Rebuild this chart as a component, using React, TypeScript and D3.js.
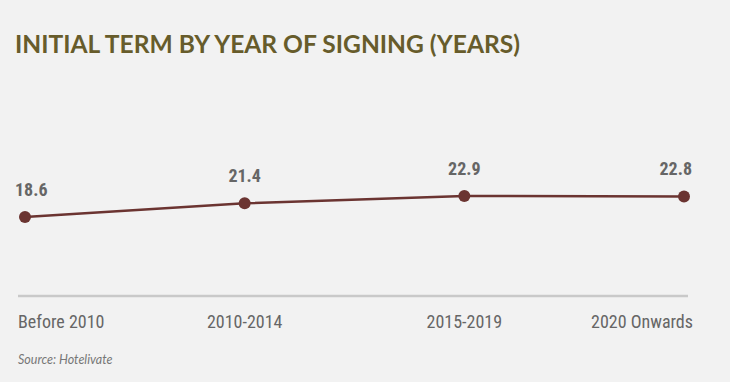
import React from "react";
import * as d3 from "d3";

const categories = ["Before 2010", "2010-2014", "2015-2019", "2020 Onwards"];
const values = [18.6, 21.4, 22.9, 22.8];
const title = "INITIAL TERM BY YEAR OF SIGNING (YEARS)";
const source = "Source: Hotelivate";

const W = 730;
const H = 382;

export default function App() {
  const x = d3.scalePoint<string>().domain(categories).range([25, 684]);
  const y = d3.scaleLinear().domain([18.6, 22.9]).range([217, 196]);
  const line = d3
    .line<number>()
    .x((_, i) => x(categories[i]) as number)
    .y((d) => y(d));
  const condensed = "'Roboto Condensed', 'Liberation Sans Narrow', 'DejaVu Sans Condensed', sans-serif";
  const last = categories.length - 1;
  return (
    <svg width={W} height={H} style={{ position: "absolute", left: 0, top: 0, display: "block" }}>
      <rect x={0} y={0} width={W} height={H} fill="#f2f2f2" />
      <text x={15} y={53} fill="#675c2b" fontFamily="Lato, sans-serif" fontWeight={700} fontSize={25} textLength={505} lengthAdjust="spacingAndGlyphs">
        {title}
      </text>
      <line x1={18} x2={688} y1={296} y2={296} stroke="#c9c9c9" strokeWidth={2.5} />
      <path d={line(values) || ""} fill="none" stroke="#6b3431" strokeWidth={2.5} />
      {values.map((v, i) => (
        <g key={i}>
          <circle cx={x(categories[i])} cy={y(v)} r={6} fill="#6b3431" />
          <text
            x={i === 0 ? 15 : i === last ? 692 : (x(categories[i]) as number)}
            y={y(v) - 21}
            textAnchor={i === 0 ? "start" : i === last ? "end" : "middle"}
            fill="#666"
            fontFamily={condensed}
            fontWeight={700}
            fontSize={18}
          >
            {v.toFixed(1)}
          </text>
        </g>
      ))}
      {categories.map((c, i) => (
        <text
          key={c}
          x={i === 0 ? 18 : i === last ? 693 : (x(c) as number)}
          y={328}
          textAnchor={i === 0 ? "start" : i === last ? "end" : "middle"}
          fill="#666"
          fontFamily={condensed}
          fontSize={18}
        >
          {c}
        </text>
      ))}
      <text x={18} y={364} fill="#777" fontFamily="Lato, sans-serif" fontStyle="italic" fontSize={12.5}>
        {source}
      </text>
    </svg>
  );
}
